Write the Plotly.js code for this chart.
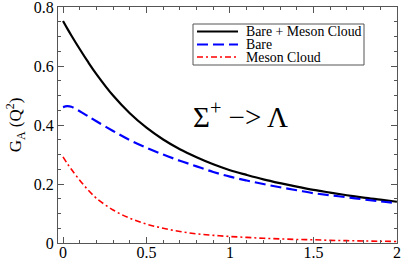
<!DOCTYPE html>
<html>
<head>
<meta charset="utf-8">
<script src="https://cdn.plot.ly/plotly-3.0.1.min.js"></script>
<style>html,body{margin:0;padding:0;background:#fff;}#chart{width:402px;height:261px;}</style>
</head>
<body>
<div id="chart"></div>
<script>
// Q^2 values (GeV^2)
const q2 = [0, 0.025, 0.05, 0.1, 0.15, 0.2, 0.3, 0.4, 0.5, 0.6, 0.7, 0.8, 0.9, 1.0, 1.1, 1.2, 1.3, 1.4, 1.5, 1.6, 1.7, 1.8, 1.9, 2.0];
// Bare + Meson Cloud
const total = [0.753, 0.728, 0.704, 0.658, 0.614, 0.573, 0.5, 0.44, 0.391, 0.351, 0.318, 0.291, 0.267, 0.247, 0.231, 0.216, 0.203, 0.191, 0.18, 0.171, 0.162, 0.154, 0.147, 0.14];
// Bare
const bare = [0.461, 0.464, 0.462, 0.447, 0.43, 0.413, 0.38, 0.349, 0.323, 0.3, 0.279, 0.26, 0.241, 0.225, 0.212, 0.2, 0.189, 0.179, 0.169, 0.162, 0.155, 0.148, 0.141, 0.135];
// Meson Cloud
const meson = [0.292, 0.27, 0.25, 0.213, 0.18, 0.152, 0.112, 0.084, 0.064, 0.05, 0.039, 0.031, 0.026, 0.022, 0.019, 0.016, 0.014, 0.012, 0.011, 0.009, 0.008, 0.007, 0.006, 0.005];
const seriesNames = ["Bare + Meson Cloud", "Bare", "Meson Cloud"];
const xTicks = [0, 0.5, 1, 1.5, 2];
const xTickText = ["0", "0.5", "1", "1.5", "2"];
const yTicks = [0, 0.2, 0.4, 0.6, 0.8];
const yTickText = ["0", "0.2", "0.4", "0.6", "0.8"];

const W = 402, H = 261;
const mL = 58, mR = 5, mT = 7, mB = 18;
const pw = W - mL - mR, ph = H - mT - mB;
const px = x => (x - mL) / pw;          // pixel -> paper x
const py = y => (H - mB - y) / ph;      // pixel -> paper y

const styles = [
  {color: "#000000", width: 2.2, dash: "solid"},
  {color: "#0000ff", width: 2.2, dash: "11px,5px"},
  {color: "#ff0000", width: 1.6, dash: "6px,3px,2px,3px"}
];
const ys = [total, bare, meson];
const traces = ys.map((y, i) => ({
  x: q2, y: y, type: "scatter", mode: "lines", name: seriesNames[i],
  line: {color: styles[i].color, width: styles[i].width, dash: styles[i].dash, shape: "spline"},
  showlegend: false, hoverinfo: "skip"
}));

const font = "Liberation Serif";
const axisCommon = {
  showgrid: false, zeroline: false, showline: true, linecolor: "#555", linewidth: 1,
  mirror: "ticks", ticks: "inside", ticklen: 6, tickwidth: 1, tickcolor: "#555",
  ticklabeloverflow: "allow",
  tickfont: {family: font, size: 16, color: "#000"}
};

// manual legend
const shapes = [{type: "rect", xref: "paper", yref: "paper",
  x0: px(193), x1: px(364), y0: py(65), y1: py(24),
  line: {color: "#555", width: 1}, fillcolor: "#fff", layer: "above"}];
const rowsY = [31.5, 44.5, 57];
const annotations = [];
rowsY.forEach((ry, i) => {
  shapes.push({type: "line", xref: "paper", yref: "paper", x0: px(197), x1: px(238), y0: py(ry), y1: py(ry),
    line: {color: styles[i].color, width: styles[i].width, dash: styles[i].dash}, layer: "above"});
  annotations.push({xref: "paper", yref: "paper", x: px(244), y: py(ry), xanchor: "left", yanchor: "middle",
    text: seriesNames[i], showarrow: false, font: {family: font, size: 13.8, color: "#000"}});
});
annotations.push({xref: "paper", yref: "paper", x: px(240), y: py(115), xanchor: "center", yanchor: "middle",
  text: "Σ<sup>+</sup> −> Λ", showarrow: false, font: {family: font, size: 29, color: "#000"}});

const layout = {
  width: W, height: H,
  margin: {l: mL, r: mR, t: mT, b: mB, pad: 0},
  paper_bgcolor: "#fff", plot_bgcolor: "#fff",
  font: {family: font},
  showlegend: false,
  xaxis: Object.assign({}, axisCommon, {range: [-0.03, 2.0005], tickvals: xTicks, ticktext: xTickText,
    ticklabelstandoff: -5,
    minor: {dtick: 0.1, ticks: "inside", ticklen: 3, tickcolor: "#555", tickwidth: 1}}),
  yaxis: Object.assign({}, axisCommon, {range: [0, 0.8005], tickvals: yTicks, ticktext: yTickText,
    minor: {dtick: 0.05, ticks: "inside", ticklen: 3, tickcolor: "#555", tickwidth: 1},
    title: {text: "G<sub>A</sub> (Q<sup>2</sup>)", font: {family: font, size: 17, color: "#000"}, standoff: 7}}),
  shapes: shapes,
  annotations: annotations
};
Plotly.newPlot("chart", traces, layout, {staticPlot: true, displayModeBar: false});
</script>
</body>
</html>
